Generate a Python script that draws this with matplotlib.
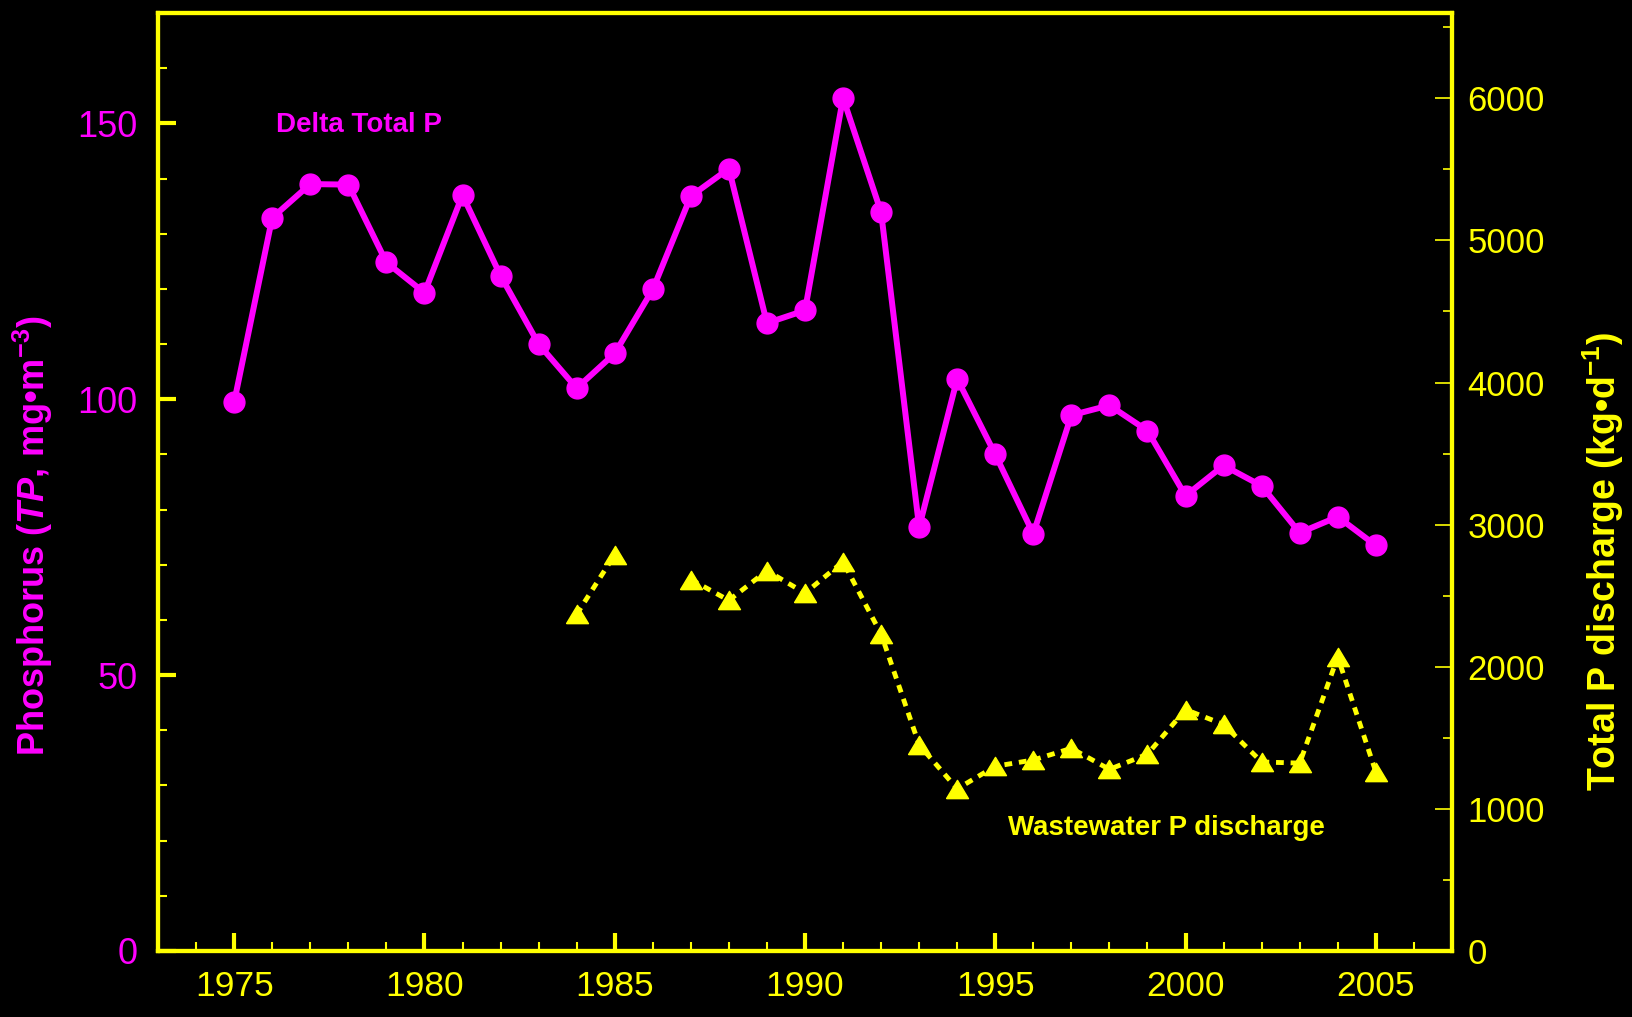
import matplotlib
matplotlib.use("Agg")
import matplotlib.pyplot as plt
import numpy as np
from matplotlib.ticker import MultipleLocator

plt.rcParams['font.family'] = ['Liberation Sans', 'DejaVu Sans']
plt.rcParams['mathtext.fontset'] = 'custom'
plt.rcParams['mathtext.rm'] = 'Liberation Sans:bold'
plt.rcParams['mathtext.bf'] = 'Liberation Sans:bold'
plt.rcParams['mathtext.it'] = 'Liberation Sans:italic:bold'

# Delta total phosphorus (mg/m3), left axis
tp_years = np.arange(1975, 2006)
tp_values = [99.5, 132.9, 139.0, 138.9, 124.8, 119.3, 137.0, 122.4, 110.0, 102.0,
             108.3, 119.9, 136.8, 141.8, 113.8, 116.1, 154.6, 133.9, 76.8, 103.7,
             90.0, 75.6, 97.1, 98.9, 94.3, 82.5, 88.0, 84.3, 75.8, 78.7, 73.5]

# wastewater P discharge (kg/d), right axis; no value for 1986
ww_years = np.arange(1984, 2006)
ww_values = [2369, 2789, np.nan, 2614, 2467, 2676, 2518, 2739, 2230, 1451, 1141,
             1300, 1344, 1426, 1278, 1385, 1699, 1594, 1330, 1322, 2069, 1261]

MAG = '#ff00ff'
YEL = '#ffff00'

# slightly wide triangle, like the original
tri = [(-1.2, -1), (1.2, -1), (0, 1), (-1.2, -1)]

fig = plt.figure(figsize=(16.33, 10.17), dpi=100, facecolor='black')
ax = fig.add_axes([0.0968, 0.0649, 0.7923, 0.9223])
ax.set_facecolor('black')
ax2 = ax.twinx()

ax.plot(tp_years, tp_values, color=MAG, lw=4.3, marker='o', ms=15,
        markerfacecolor=MAG, markeredgecolor=MAG, zorder=3)
ax2.plot(ww_years, ww_values, color=YEL, lw=3.5, linestyle=(0, (1.6, 1.4)),
         marker=tri, ms=15.8, markerfacecolor=YEL, markeredgecolor=YEL)

ax.set_xlim(1973, 2007)
ax.set_ylim(0, 170)
ax2.set_ylim(0, 6600)

ax.xaxis.set_major_locator(MultipleLocator(5))
ax.xaxis.set_minor_locator(MultipleLocator(1))
ax.yaxis.set_major_locator(MultipleLocator(50))
ax.yaxis.set_minor_locator(MultipleLocator(10))
ax2.yaxis.set_major_locator(MultipleLocator(1000))
ax2.yaxis.set_minor_locator(MultipleLocator(500))

for a in (ax, ax2):
    for s in a.spines.values():
        s.set_color(YEL)
        s.set_linewidth(3)

ax.tick_params(axis='x', which='major', direction='in', length=13, width=3,
               color=YEL, labelcolor=YEL, labelsize=25.5, pad=14)
ax.tick_params(axis='x', which='minor', direction='in', length=6.5, width=1.5, color=YEL)
ax.tick_params(axis='y', which='major', direction='in', length=13, width=3,
               color=YEL, labelcolor=MAG, labelsize=26, pad=15)
ax.tick_params(axis='y', which='minor', direction='in', length=6.5, width=1.5, color=YEL)
ax2.tick_params(axis='y', which='major', direction='in', length=12, width=1.2,
                color=YEL, labelcolor=YEL, labelsize=25, pad=11)
ax2.tick_params(axis='y', which='minor', direction='in', length=6.5, width=1.2, color=YEL)

ax.text(1976.1, 149.7, 'Delta Total P', color=MAG, fontsize=20,
        fontweight='bold', ha='left', va='center')
ax.text(1995.33, 22.3, 'Wastewater P discharge', color=YEL, fontsize=19.9,
        fontweight='bold', ha='left', va='center')

fig.text(0.0202, 0.473, r'Phosphorus ($\mathit{TP}$, mg•m$^{-3}$)', color=MAG,
         fontsize=26, fontweight='bold', rotation=90, ha='center', va='center')
fig.text(0.982, 0.448, r'Total P discharge (kg•d$^{-1}$)', color=YEL,
         fontsize=27, fontweight='bold', rotation=90, ha='center', va='center')

fig.savefig('out.png', dpi=100, facecolor='black')
